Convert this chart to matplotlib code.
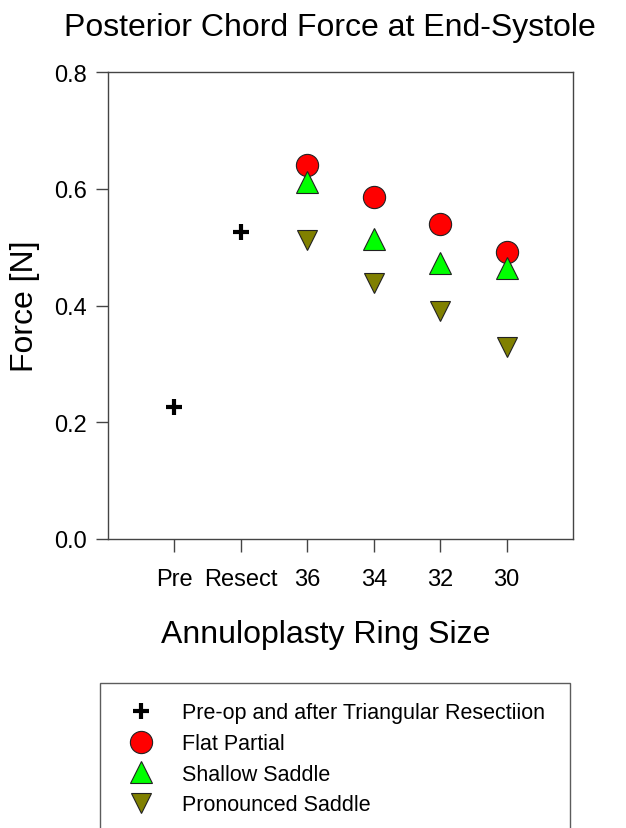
"""Posterior chord force at end-systole by annuloplasty ring size."""

import matplotlib

matplotlib.use("Agg")
import matplotlib.pyplot as plt

plt.rcParams["font.family"] = ["Liberation Sans", "DejaVu Sans"]

categories = ["Pre", "Resect", "36", "34", "32", "30"]
baseline_pos = [1, 2]
baseline_force = [0.226, 0.526]
ring_pos = [3, 4, 5, 6]
flat_partial = [0.641, 0.586, 0.540, 0.492]
shallow_saddle = [0.612, 0.514, 0.473, 0.464]
pronounced_saddle = [0.512, 0.439, 0.391, 0.329]

W, H = 626, 829
fig = plt.figure(figsize=(W / 100, H / 100), dpi=100)
ax = fig.add_axes([108 / W, 1 - 540 / H, 465 / W, 467 / H])

h1, = ax.plot(baseline_pos, baseline_force, linestyle="none", marker="+",
              color="black", markersize=11, markeredgewidth=3)
h2, = ax.plot(ring_pos, flat_partial, linestyle="none", marker="o",
              markerfacecolor="#FF0000", markeredgecolor="#222222",
              markeredgewidth=0.8, markersize=16)
h3, = ax.plot(ring_pos, shallow_saddle, linestyle="none", marker="^",
              markerfacecolor="#00FF00", markeredgecolor="#222222",
              markeredgewidth=0.8, markersize=16)
h4, = ax.plot(ring_pos, pronounced_saddle, linestyle="none", marker="v",
              markerfacecolor="#808000", markeredgecolor="#222222",
              markeredgewidth=0.8, markersize=15)

ax.set_xlim(0, 7)
ax.set_ylim(0, 0.8)
ax.set_xticks(baseline_pos + ring_pos)
ax.set_xticklabels(categories)
ax.set_yticks([0.0, 0.2, 0.4, 0.6, 0.8])
ax.set_yticklabels(["0.0", "0.2", "0.4", "0.6", "0.8"])
ax.tick_params(direction="out", length=9, width=1, labelsize=17, pad=6,
               color="#444444")
ax.tick_params(axis="x", pad=12)
for side in ax.spines.values():
    side.set_color("#444444")
    side.set_linewidth(1)

fig.text(330 / W, 1 - 28 / H, "Posterior Chord Force at End-Systole",
         ha="center", va="center", fontsize=23)
fig.text(25 / W, 1 - 306 / H, "Force [N]", ha="center", va="center",
         rotation=90, fontsize=23)
fig.text(326 / W, 1 - 635 / H, "Annuloplasty Ring Size", ha="center",
         va="center", fontsize=23)

leg = fig.legend(
    [h1, h2, h3, h4],
    ["Pre-op and after Triangular Resectiion", "Flat Partial",
     "Shallow Saddle", "Pronounced Saddle"],
    loc="upper left",
    bbox_to_anchor=(100 / W, 1 - 684 / H, 470 / W, 0.0),
    mode="expand",
    fontsize=15.5,
    frameon=True,
    fancybox=False,
    edgecolor="#333333",
    borderpad=0.9,
    labelspacing=0.45,
    handletextpad=0.9,
    handlelength=2.0,
    borderaxespad=0,
)
leg.get_frame().set_linewidth(1)

fig.savefig("out.png", dpi=100)
